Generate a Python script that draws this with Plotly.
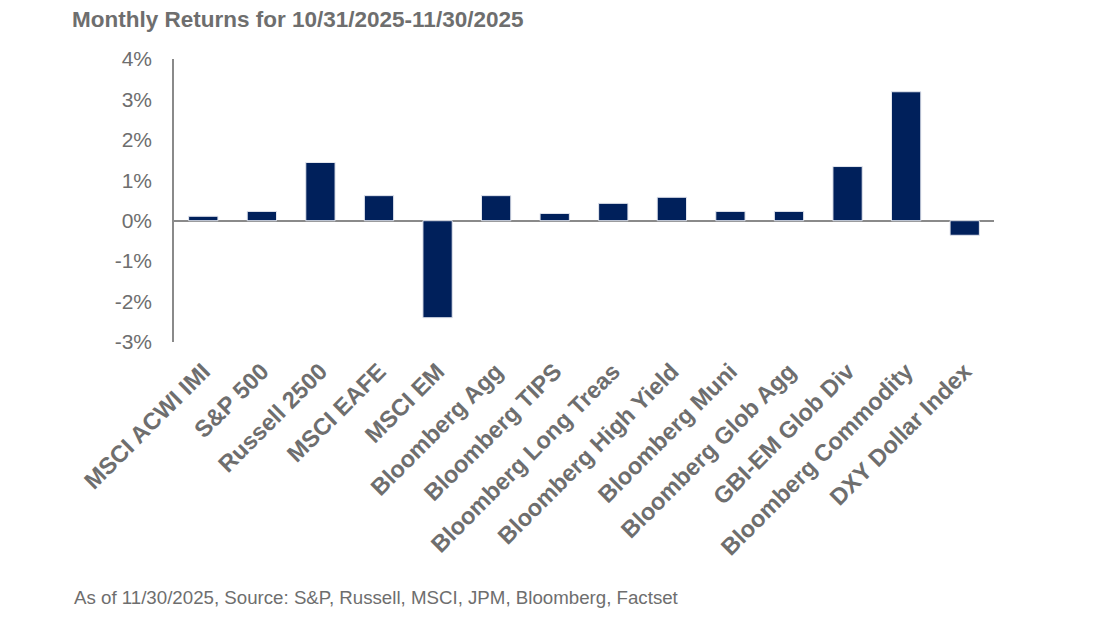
import plotly.graph_objects as go

categories = ["MSCI ACWI IMI", "S&P 500", "Russell 2500", "MSCI EAFE", "MSCI EM",
              "Bloomberg Agg", "Bloomberg TIPS", "Bloomberg Long Treas",
              "Bloomberg High Yield", "Bloomberg Muni", "Bloomberg Glob Agg",
              "GBI-EM Glob Div", "Bloomberg Commodity", "DXY Dollar Index"]
returns = [0.11, 0.23, 1.44, 0.62, -2.40, 0.62, 0.18, 0.43, 0.58, 0.23, 0.23, 1.34, 3.19, -0.36]
y_ticks = [-3, -2, -1, 0, 1, 2, 3, 4]
y_tick_labels = ["-3%", "-2%", "-1%", "0%", "1%", "2%", "3%", "4%"]

title_text = "Monthly Returns for 10/31/2025-11/30/2025"
footer_text = "As of 11/30/2025, Source: S&P, Russell, MSCI, JPM, Bloomberg, Factset"

navy = "#00205B"
gray_text = "#6E6E6E"
axis_gray = "#8A8A8A"
font_family = "Liberation Sans, Arial, sans-serif"

fig = go.Figure()
fig.add_trace(go.Bar(
    x=categories, y=returns,
    marker=dict(color=navy, line=dict(color="#E3E6EE", width=1)),
    width=0.5,
    hoverinfo="skip",
))

# page has an 8px body margin; figure sized to fit the window
OFF = 8
W, H = 1101 - OFF, 619 - OFF
L, R, T, B = 174 - OFF, 107, 59 - OFF, 277
PW, PH = W - L - R, H - T - B

fig.update_layout(
    width=W, height=H,
    margin=dict(l=L, r=R, t=T, b=B, autoexpand=False),
    paper_bgcolor="white", plot_bgcolor="white",
    showlegend=False,
    font=dict(family=font_family, color=gray_text),
    title=dict(
        text="<b>" + title_text + "</b>",
        x=(72 - OFF) / W, xref="container", xanchor="left",
        y=1 - (19 - OFF) / H, yref="container", yanchor="middle",
        font=dict(size=22.5, color=gray_text, family=font_family),
    ),
    annotations=[dict(
        text=footer_text, xref="paper", yref="paper",
        x=(72 - OFF - L) / PW, y=(H - B - (597 - OFF)) / PH,
        xanchor="left", yanchor="middle", showarrow=False,
        font=dict(size=18.7, color=gray_text, family=font_family),
    )],
)
fig.update_yaxes(
    range=[-3, 4], tickvals=y_ticks, ticktext=y_tick_labels,
    showgrid=False, showline=True, linecolor=axis_gray, linewidth=1.5,
    zeroline=True, zerolinecolor=axis_gray, zerolinewidth=1.5,
    ticks="", ticklabelstandoff=16,
    tickfont=dict(size=21, color=gray_text, family=font_family),
)
fig.update_xaxes(
    showgrid=False, showline=False, zeroline=False, ticks="",
    tickangle=-45, ticklabelstandoff=10,
    tickfont=dict(size=23.5, color=gray_text, family=font_family, weight="bold"),
)

fig.write_html("out.html")
